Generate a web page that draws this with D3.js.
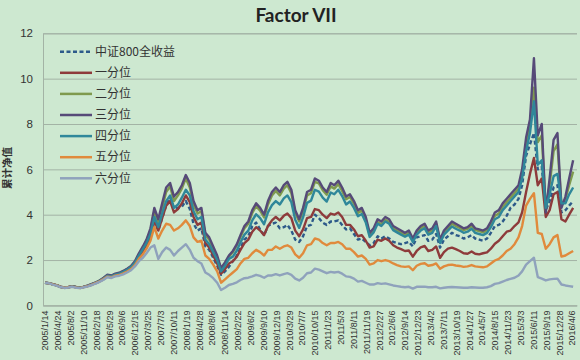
<!DOCTYPE html>
<html><head><meta charset="utf-8">
<script src="https://cdn.jsdelivr.net/npm/d3@7"></script>
<style>html,body{margin:0;padding:0;background:#cde8d0;}svg{display:block;}</style>
</head><body><svg id="c" width="580" height="360"></svg>
<script>
const months = [
"2005-01","2005-02","2005-03","2005-04","2005-05","2005-06","2005-07","2005-08","2005-09","2005-10","2005-11","2005-12",
"2006-01","2006-02","2006-03","2006-04","2006-05","2006-06","2006-07","2006-08","2006-09","2006-10","2006-11","2006-12",
"2007-01","2007-02","2007-03","2007-04","2007-05","2007-06","2007-07","2007-08","2007-09","2007-10","2007-11","2007-12",
"2008-01","2008-02","2008-03","2008-04","2008-05","2008-06","2008-07","2008-08","2008-09","2008-10","2008-11","2008-12",
"2009-01","2009-02","2009-03","2009-04","2009-05","2009-06","2009-07","2009-08","2009-09","2009-10","2009-11","2009-12",
"2010-01","2010-02","2010-03","2010-04","2010-05","2010-06","2010-07","2010-08","2010-09","2010-10","2010-11","2010-12",
"2011-01","2011-02","2011-03","2011-04","2011-05","2011-06","2011-07","2011-08","2011-09","2011-10","2011-11","2011-12",
"2012-01","2012-02","2012-03","2012-04","2012-05","2012-06","2012-07","2012-08","2012-09","2012-10","2012-11","2012-12",
"2013-01","2013-02","2013-03","2013-04","2013-05","2013-06","2013-07","2013-08","2013-09","2013-10","2013-11","2013-12",
"2014-01","2014-02","2014-03","2014-04","2014-05","2014-06","2014-07","2014-08","2014-09","2014-10","2014-11","2014-12",
"2015-01","2015-02","2015-03","2015-04","2015-05","2015-06","2015-07","2015-08","2015-09","2015-10","2015-11","2015-12",
"2016-01","2016-02","2016-03","2016-04"];

const tickLabels = ["2005/1/14","2005/4/24","2005/8/2","2005/11/10","2006/2/18","2006/5/29","2006/9/6","2006/12/15",
"2007/3/25","2007/7/3","2007/10/11","2008/1/19","2008/4/28","2008/8/6","2008/11/14","2009/2/22","2009/6/2",
"2009/9/10","2009/12/19","2010/3/29","2010/7/7","2010/10/15","2011/1/23","2011/5/3","2011/8/11","2011/11/19",
"2012/2/27","2012/6/6","2012/9/14","2012/12/23","2013/4/2","2013/7/11","2013/10/19","2014/1/27","2014/5/7",
"2014/8/15","2014/11/23","2015/3/3","2015/6/11","2015/9/19","2015/12/28","2016/4/6"];

const yTicks = [0,2,4,6,8,10,12];

const csi800 = [
1.00,0.98,0.94,0.89,0.83,0.79,0.81,0.85,0.81,0.78,0.82,0.85,0.92,0.98,1.05,1.15,1.27,1.25,1.32,1.36,1.44,1.55,1.68,1.90,
2.15,2.40,2.70,3.05,3.70,3.30,3.85,4.40,4.75,4.30,4.30,4.35,4.60,4.25,3.60,3.30,3.40,2.60,2.45,2.10,1.75,1.35,1.50,1.70,
1.95,2.20,2.55,2.90,3.05,3.50,3.65,3.35,3.10,3.50,3.60,3.65,3.40,3.45,3.55,3.30,2.90,2.80,3.05,3.50,3.55,4.00,3.85,3.65,
3.55,3.70,3.70,3.75,3.55,3.35,3.40,3.15,2.90,2.95,2.80,2.65,2.75,3.05,2.95,3.05,2.95,2.80,2.75,2.70,2.75,2.80,2.60,3.00,
3.05,3.10,2.85,2.90,3.15,2.55,2.90,3.05,3.20,3.10,3.05,2.95,3.00,3.10,2.95,2.90,2.85,2.95,3.20,3.50,
3.55,3.70,3.95,4.30,4.45,4.70,5.30,6.60,7.10,7.60,6.00,6.10,4.20,4.60,5.20,5.30,4.10,4.20,4.40,4.60];

const q1 = [
1.00,0.98,0.94,0.89,0.83,0.79,0.81,0.85,0.81,0.78,0.82,0.86,0.93,1.00,1.07,1.17,1.29,1.26,1.34,1.37,1.45,1.54,1.65,1.84,
2.15,2.40,2.65,3.05,3.75,3.30,3.85,4.40,4.60,4.10,4.25,4.50,4.85,4.55,3.90,3.55,3.65,2.75,2.55,2.20,1.85,1.40,1.60,1.85,
1.95,2.15,2.45,2.75,2.90,3.25,3.45,3.30,3.10,3.50,3.75,3.90,3.75,3.95,4.05,3.85,3.30,3.05,3.35,3.85,3.90,4.25,4.20,4.00,
3.85,4.05,4.00,4.10,3.90,3.55,3.55,3.35,3.05,3.10,2.85,2.55,2.60,2.90,2.85,2.95,2.85,2.65,2.55,2.48,2.40,2.42,2.15,2.40,
2.56,2.62,2.40,2.45,2.60,2.10,2.35,2.50,2.55,2.48,2.40,2.30,2.28,2.38,2.28,2.25,2.30,2.34,2.50,2.72,
2.85,3.05,3.25,3.30,3.50,3.66,4.10,5.00,5.80,6.50,5.30,5.60,3.90,4.20,4.90,5.00,3.80,3.70,4.00,4.30];

const q2 = [
1.00,0.97,0.93,0.88,0.82,0.78,0.80,0.84,0.80,0.77,0.82,0.87,0.94,1.01,1.09,1.20,1.33,1.30,1.38,1.42,1.50,1.60,1.72,1.92,
2.25,2.55,2.85,3.30,4.15,3.65,4.30,5.00,5.25,4.60,4.85,5.15,5.60,5.20,4.45,4.05,4.15,3.10,2.90,2.50,2.10,1.60,1.85,2.15,
2.35,2.65,3.02,3.40,3.60,4.08,4.38,4.18,3.88,4.45,4.85,5.05,4.85,5.15,5.30,4.95,4.08,3.70,4.18,4.85,4.95,5.45,5.38,5.08,
4.88,5.25,5.15,5.35,5.05,4.68,4.78,4.48,4.08,4.18,3.78,3.10,3.30,3.68,3.58,3.78,3.68,3.40,3.30,3.20,3.10,3.20,2.86,3.20,
3.40,3.50,3.22,3.30,3.60,2.85,3.22,3.40,3.60,3.50,3.42,3.32,3.38,3.50,3.32,3.28,3.22,3.32,3.60,3.95,
4.05,4.35,4.55,4.75,4.95,5.15,5.80,7.10,7.90,9.60,7.20,7.50,4.20,5.30,6.80,7.10,4.40,4.70,5.30,5.90];

const q3 = [
1.00,0.97,0.93,0.88,0.81,0.77,0.80,0.84,0.80,0.77,0.83,0.88,0.95,1.02,1.10,1.22,1.35,1.32,1.40,1.44,1.52,1.62,1.74,1.95,
2.30,2.60,2.90,3.40,4.30,3.80,4.50,5.20,5.40,4.80,5.00,5.30,5.75,5.40,4.60,4.20,4.30,3.20,3.00,2.60,2.20,1.65,1.90,2.20,
2.40,2.70,3.10,3.50,3.70,4.20,4.50,4.30,4.00,4.60,5.00,5.20,5.00,5.30,5.45,5.10,4.20,3.80,4.30,5.00,5.10,5.60,5.50,5.20,
5.00,5.40,5.30,5.50,5.20,4.80,4.90,4.60,4.20,4.30,3.90,3.20,3.40,3.80,3.70,3.90,3.80,3.50,3.40,3.30,3.20,3.30,2.95,3.30,
3.50,3.60,3.30,3.40,3.70,2.90,3.30,3.50,3.70,3.60,3.50,3.40,3.45,3.60,3.40,3.35,3.30,3.40,3.70,4.10,
4.20,4.50,4.70,4.90,5.10,5.30,6.00,7.40,8.20,10.90,7.50,8.00,4.10,5.60,7.30,7.60,4.30,4.80,5.60,6.40];

const q4 = [
1.00,0.97,0.93,0.88,0.82,0.78,0.80,0.84,0.80,0.78,0.82,0.86,0.93,1.00,1.08,1.19,1.31,1.28,1.36,1.40,1.48,1.57,1.69,1.88,
2.20,2.48,2.75,3.15,3.90,3.45,4.05,4.60,4.85,4.30,4.45,4.75,5.10,4.85,4.15,3.80,3.90,2.90,2.70,2.35,2.00,1.50,1.75,2.05,
2.15,2.42,2.78,3.12,3.30,3.75,4.02,3.85,3.58,4.10,4.42,4.60,4.45,4.72,4.85,4.55,3.78,3.42,3.88,4.52,4.62,5.10,5.02,4.75,
4.58,4.98,4.90,5.10,4.82,4.45,4.58,4.30,3.93,4.03,3.66,3.02,3.22,3.60,3.50,3.70,3.60,3.32,3.22,3.12,3.03,3.12,2.80,3.12,
3.30,3.40,3.12,3.20,3.50,2.75,3.12,3.30,3.48,3.38,3.30,3.20,3.25,3.38,3.20,3.15,3.10,3.20,3.45,3.80,
3.90,4.20,4.40,4.60,4.80,5.00,5.60,6.80,7.60,9.00,6.20,6.40,4.30,4.90,5.70,5.80,4.50,4.50,4.90,5.20];

const q5 = [
1.00,0.97,0.93,0.88,0.82,0.78,0.80,0.83,0.79,0.77,0.81,0.85,0.92,0.99,1.06,1.16,1.27,1.24,1.31,1.34,1.41,1.49,1.60,1.78,
2.05,2.25,2.50,2.85,3.45,2.95,3.30,3.60,3.55,3.30,3.40,3.55,3.75,3.50,3.00,2.80,2.85,2.20,2.05,1.80,1.50,1.00,1.15,1.30,
1.45,1.60,1.85,2.05,2.10,2.30,2.45,2.35,2.20,2.45,2.45,2.60,2.50,2.60,2.65,2.55,2.25,2.10,2.30,2.65,2.70,2.95,2.90,2.75,
2.65,2.75,2.75,2.80,2.70,2.50,2.50,2.35,2.15,2.20,2.05,1.80,1.85,2.00,1.95,2.00,1.95,1.85,1.78,1.72,1.70,1.72,1.55,1.75,
1.83,1.86,1.75,1.78,1.85,1.62,1.72,1.78,1.80,1.76,1.74,1.70,1.72,1.78,1.72,1.70,1.68,1.72,1.85,1.98,
2.05,2.20,2.40,2.50,2.70,3.00,3.50,4.40,4.70,4.95,3.20,3.15,2.50,2.70,3.00,3.10,2.15,2.20,2.30,2.40];

const q6 = [
1.00,0.97,0.92,0.87,0.81,0.77,0.79,0.82,0.78,0.76,0.80,0.84,0.90,0.97,1.04,1.13,1.24,1.21,1.28,1.31,1.37,1.45,1.55,1.72,
1.95,2.10,2.30,2.55,2.65,2.05,2.35,2.55,2.45,2.20,2.40,2.55,2.70,2.45,2.10,1.95,1.85,1.45,1.35,1.20,1.00,0.68,0.78,0.90,
0.95,1.02,1.12,1.20,1.22,1.28,1.35,1.30,1.22,1.32,1.32,1.38,1.32,1.38,1.42,1.35,1.18,1.10,1.22,1.42,1.45,1.62,1.58,1.50,
1.42,1.48,1.45,1.48,1.40,1.28,1.26,1.18,1.05,1.08,1.00,0.92,0.92,0.98,0.95,0.97,0.93,0.88,0.85,0.82,0.80,0.82,0.74,0.82,
0.82,0.83,0.80,0.80,0.82,0.75,0.78,0.80,0.81,0.80,0.79,0.78,0.78,0.80,0.79,0.78,0.78,0.80,0.85,0.95,
0.98,1.05,1.12,1.17,1.22,1.32,1.50,1.80,1.95,2.10,1.25,1.18,1.10,1.15,1.17,1.18,0.92,0.88,0.85,0.82];

const seriesNames = ["中证800全收益","一分位","二分位","三分位","四分位","五分位","六分位"];
const seriesValues = [csi800, q1, q2, q3, q4, q5, q6];
const seriesColors = ["#2d5a8a","#8e3b3b","#7f9a4e","#564a78","#2f879a","#e08a3c","#8fa2bc"];
const seriesDash = ["4,2.5",null,null,null,null,null,null];

const svg = d3.select("#c");
const W = 580, H = 360;
const plotL = 43, plotR = 577, plotT = 33.3, plotB = 305.4;

const parseM = d3.timeParse("%Y-%m");
const parseT = d3.timeParse("%Y/%m/%d");
const dates = months.map(m => d3.timeDay.offset(parseM(m), 14));

const x = d3.scaleTime().domain([new Date(2004,11,30), new Date(2016,4,15)]).range([plotL, plotR]);
const y = d3.scaleLinear().domain([0,12]).range([plotB, plotT]);

svg.append("rect").attr("width", W).attr("height", H).attr("fill", "#cde8d0");

svg.append("text").attr("x", 296).attr("y", 22).attr("text-anchor","middle")
  .attr("font-family","Lato, 'Open Sans', sans-serif").attr("font-weight","bold")
  .attr("font-size", 19).attr("fill","#222").text("Factor VII");

const yAxis = d3.axisLeft(y).tickValues(yTicks).tickSize(-(plotR-plotL)).tickPadding(10).tickFormat(d3.format("d"));
const gy = svg.append("g").attr("transform", `translate(${plotL},0)`).call(yAxis);
gy.select(".domain").attr("stroke","#a3b3a5");
gy.selectAll(".tick line").attr("stroke","#a3b3a5").attr("stroke-width",1);
gy.selectAll(".tick text").attr("font-family","'Liberation Sans', Arial, sans-serif").attr("font-size",11.5).attr("fill","#333");

const xAxis = d3.axisBottom(x).tickValues(tickLabels.map(parseT)).tickSize(0).tickFormat((d,i)=>tickLabels[i]);
const gx = svg.append("g").attr("transform", `translate(0,${plotB})`).call(xAxis);
gx.select(".domain").attr("stroke","#a3b3a5");
gx.selectAll(".tick text")
  .attr("font-family","'Liberation Sans', Arial, sans-serif").attr("font-size",9).attr("fill","#333")
  .attr("text-anchor","end").attr("dy","0.32em")
  .attr("transform","translate(0,5) rotate(-90)").attr("x",0).attr("y",0);

svg.append("text").attr("transform","translate(11,168) rotate(-90)").attr("text-anchor","middle")
  .attr("font-family","'Noto Sans CJK SC', sans-serif").attr("font-size",10.5).attr("font-weight","bold")
  .attr("fill","#333").text("累计净值");

svg.append("clipPath").attr("id","clip").append("rect")
  .attr("x",plotL).attr("y",plotT-2).attr("width",plotR-plotL).attr("height",plotB-plotT+2);
const line = d3.line().x((d,i)=>x(dates[i])).y(d=>y(d));
const lg = svg.append("g").attr("clip-path","url(#clip)");
seriesValues.forEach((vals,k)=>{
  lg.append("path").datum(vals).attr("d", line).attr("fill","none")
    .attr("stroke", seriesColors[k]).attr("stroke-width", 2.4)
    .attr("stroke-linejoin","round")
    .attr("stroke-dasharray", seriesDash[k]);
});

const leg = svg.append("g");
seriesNames.forEach((n,k)=>{
  const yy = 51.7 + k*21.1;
  leg.append("line").attr("x1",60).attr("x2",92).attr("y1",yy).attr("y2",yy)
    .attr("stroke",seriesColors[k]).attr("stroke-width",2.5).attr("stroke-dasharray",seriesDash[k]);
  leg.append("text").attr("x",95).attr("y",yy).attr("dy","0.35em")
    .attr("font-family","'Noto Sans CJK SC', sans-serif").attr("font-size",12).attr("fill","#333").text(n);
});
</script></body></html>
